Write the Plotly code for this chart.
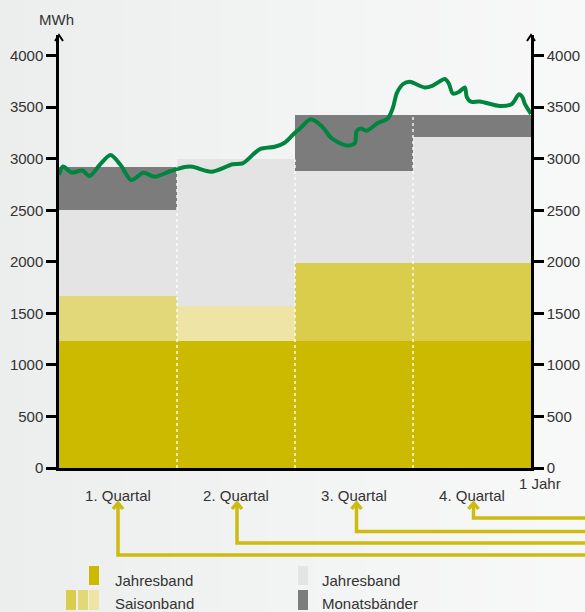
import plotly.graph_objects as go

# ---------------- data ----------------
quarters = ["1. Quartal", "2. Quartal", "3. Quartal", "4. Quartal"]
quarter_pos = [0.5, 1.5, 2.5, 3.5]

jahresband_base = [1230, 1230, 1230, 1230]          # yellow base band
saisonband = [434, 338, 757, 757]                   # seasonal band (yellow shades)
jahresband_grey = [836, 1425, 898, 1225]            # light grey Jahresband
monatsbaender = [415, 0, 535, 208]                  # dark grey monthly bands

load_x = [0.000, 0.034, 0.106, 0.199, 0.259, 0.344, 0.437, 0.522, 0.612, 0.717,
          0.810, 0.937, 1.064, 1.132, 1.291, 1.472, 1.556, 1.700, 1.828, 1.912,
          1.997, 2.040, 2.133, 2.226, 2.311, 2.436, 2.506, 2.523, 2.557, 2.608,
          2.701, 2.786, 2.829, 2.863, 2.916, 2.973, 3.041, 3.100, 3.168, 3.270,
          3.303, 3.338, 3.388, 3.439, 3.456, 3.490, 3.567, 3.736, 3.838, 3.898,
          3.927, 3.948, 4.000]
load_y = [2842, 2924, 2866, 2886, 2832, 2939, 3036, 2939, 2793, 2864,
          2825, 2876, 2919, 2922, 2874, 2946, 2955, 3091, 3116, 3155,
          3250, 3290, 3382, 3317, 3198, 3128, 3149, 3269, 3293, 3272,
          3346, 3390, 3492, 3637, 3725, 3747, 3715, 3691, 3710, 3773,
          3731, 3632, 3647, 3691, 3598, 3553, 3555, 3511, 3531, 3625,
          3598, 3531, 3434]

y_ticks = [0, 500, 1000, 1500, 2000, 2500, 3000, 3500, 4000]

# ---------------- styling ----------------
C_YELLOW = "#CBBA00"
C_SAISON = ["#E2D87A", "#EDE4A5", "#D9CD4B", "#D9CD4B"]
C_LGREY = "#E3E4E3"
C_DGREY = "#7C7C7D"
C_GREEN = "#00853F"
C_ARROW = "#CDBB12"
TXT = "#333333"
BG = "#F2F3F3"
FONT = "Liberation Sans, Arial, sans-serif"

W, H = 585, 612
ML, MR, MT, MB = 59, 54, 35, 144
PW, PH = W - ML - MR, H - MT - MB
Y_MAX = 4200


def px(xp):
    return (xp - ML) / PW


def py(yp):
    return (H - MB - yp) / PH


fig = go.Figure()
fig.add_bar(x=quarter_pos, y=jahresband_base, width=1, marker_color=C_YELLOW,
            marker_line_width=0, name="Jahresband", hoverinfo="skip")
fig.add_bar(x=quarter_pos, y=saisonband, width=1, marker_color=C_SAISON,
            marker_line_width=0, name="Saisonband", hoverinfo="skip")
fig.add_bar(x=quarter_pos, y=jahresband_grey, width=1, marker_color=C_LGREY,
            marker_line_width=0, name="Jahresband (grau)", hoverinfo="skip")
fig.add_bar(x=quarter_pos, y=monatsbaender, width=1, marker_color=C_DGREY,
            marker_line_width=0, name="Monatsbänder", hoverinfo="skip")
fig.add_scatter(x=load_x, y=load_y, mode="lines", yaxis="y2",
                line=dict(color=C_GREEN, width=4, shape="spline", smoothing=0.8),
                name="Last", hoverinfo="skip")

shapes = []
# subtle background gradient (decoration): darker left, lighter right
n_strips = 24
for i in range(n_strips):
    t = i / (n_strips - 1)
    r = int(round(0xEC + (0xF8 - 0xEC) * t))
    g = int(round(0xEE + (0xF8 - 0xEE) * t))
    b = int(round(0xEE + (0xF8 - 0xEE) * t))
    shapes.append(dict(type="rect", xref="paper", yref="paper", layer="below",
                       x0=px(W * i / n_strips), x1=px(W * (i + 1) / n_strips + 1),
                       y0=py(H), y1=py(0), fillcolor=f"rgb({r},{g},{b})", line=dict(width=0)))

# dotted dividers between quarters (up to lower of the two adjacent tops)
tops = [a + b + c + d for a, b, c, d in zip(jahresband_base, saisonband, jahresband_grey, monatsbaender)]
for i in range(1, 4):
    shapes.append(dict(type="line", xref="x", yref="y", x0=i, x1=i, y0=0,
                       y1=min(tops[i - 1], tops[i]), layer="above",
                       line=dict(color="rgba(255,255,255,0.9)", width=1.5, dash="dot")))

# axis arrow heads
for xa in (0, 1):
    shapes.append(dict(type="path", xref="paper", yref="paper", xsizemode="pixel", ysizemode="pixel",
                       xanchor=xa, yanchor=1, path="M-4,-6 L0,0 L4,-6",
                       line=dict(color="black", width=2)))

# yellow connector arrows from quarter labels
tip_y = 503
horiz_y = [555, 543, 531.5, 518]
arrow_shift = [0, 1, 2.5, 1.5]
for q, hy, dx in zip(quarter_pos, horiz_y, arrow_shift):
    xq = ML + q * PW / 4 + dx
    shapes.append(dict(type="path", xref="paper", yref="paper",
                       path=f"M{px(xq)},{py(tip_y + 1)} L{px(xq)},{py(hy)} L{px(W + 5)},{py(hy)}",
                       line=dict(color=C_ARROW, width=3.5)))
    shapes.append(dict(type="path", xref="paper", yref="paper", xsizemode="pixel", ysizemode="pixel",
                       xanchor=px(xq), yanchor=py(tip_y), path="M-5,-6 L0,0 L5,-6",
                       line=dict(color=C_ARROW, width=3.5)))

# legend swatches
def rect(x0, x1, y0, y1, color):
    shapes.append(dict(type="rect", xref="paper", yref="paper", x0=px(x0), x1=px(x1),
                       y0=py(y1), y1=py(y0), fillcolor=color, line=dict(width=0)))


rect(89, 99, 566, 585, C_YELLOW)
rect(66, 76, 590, 610, C_SAISON[2])
rect(78, 88, 590, 610, C_SAISON[0])
rect(89, 99, 590, 610, C_SAISON[1])
rect(298, 308, 566, 585, C_LGREY)
rect(298, 308, 590, 610, C_DGREY)

annotations = []


def text(t, x, y, anchor="left"):
    annotations.append(dict(text=t, xref="paper", yref="paper", x=px(x), y=py(y),
                            xanchor=anchor, yanchor="middle", showarrow=False,
                            font=dict(family=FONT, size=15, color=TXT)))


text("MWh", 56, 20, "center")
text("1 Jahr", 540, 484, "center")
text("Jahresband", 113, 580)
text("Saisonband", 113, 603)
text("Jahresband", 320, 580)
text("Monatsbänder", 320, 603)

axis_common = dict(range=[0, Y_MAX], tickvals=y_ticks, ticks="outside", ticklen=10,
                   tickwidth=2.5, tickcolor="black", showline=True, linecolor="black",
                   linewidth=2.5, showgrid=False, zeroline=False, automargin=False,
                   tickfont=dict(family=FONT, size=15, color=TXT))

fig.update_layout(
    width=W, height=H, autosize=False,
    margin=dict(l=ML, r=MR, t=MT, b=MB, pad=0, autoexpand=False),
    paper_bgcolor=BG, plot_bgcolor="rgba(0,0,0,0)",
    barmode="stack", bargap=0, showlegend=False,
    xaxis=dict(range=[0, 4], tickvals=quarter_pos, ticktext=quarters, ticks="outside",
               ticklen=12, tickcolor="rgba(0,0,0,0)", showline=True, linecolor="black",
               linewidth=2.5, showgrid=False, zeroline=False, automargin=False,
               tickfont=dict(family=FONT, size=15, color=TXT)),
    yaxis=dict(**axis_common, side="left"),
    yaxis2=dict(**axis_common, side="right", overlaying="y"),
    shapes=shapes, annotations=annotations,
)

fig.write_html(
    "out.html",
    config={"displayModeBar": False, "responsive": False},
    post_script=(
        f"document.body.style.margin='0';document.body.style.background='{BG}';"
        "document.body.style.overflow='hidden';"
    ),
)
